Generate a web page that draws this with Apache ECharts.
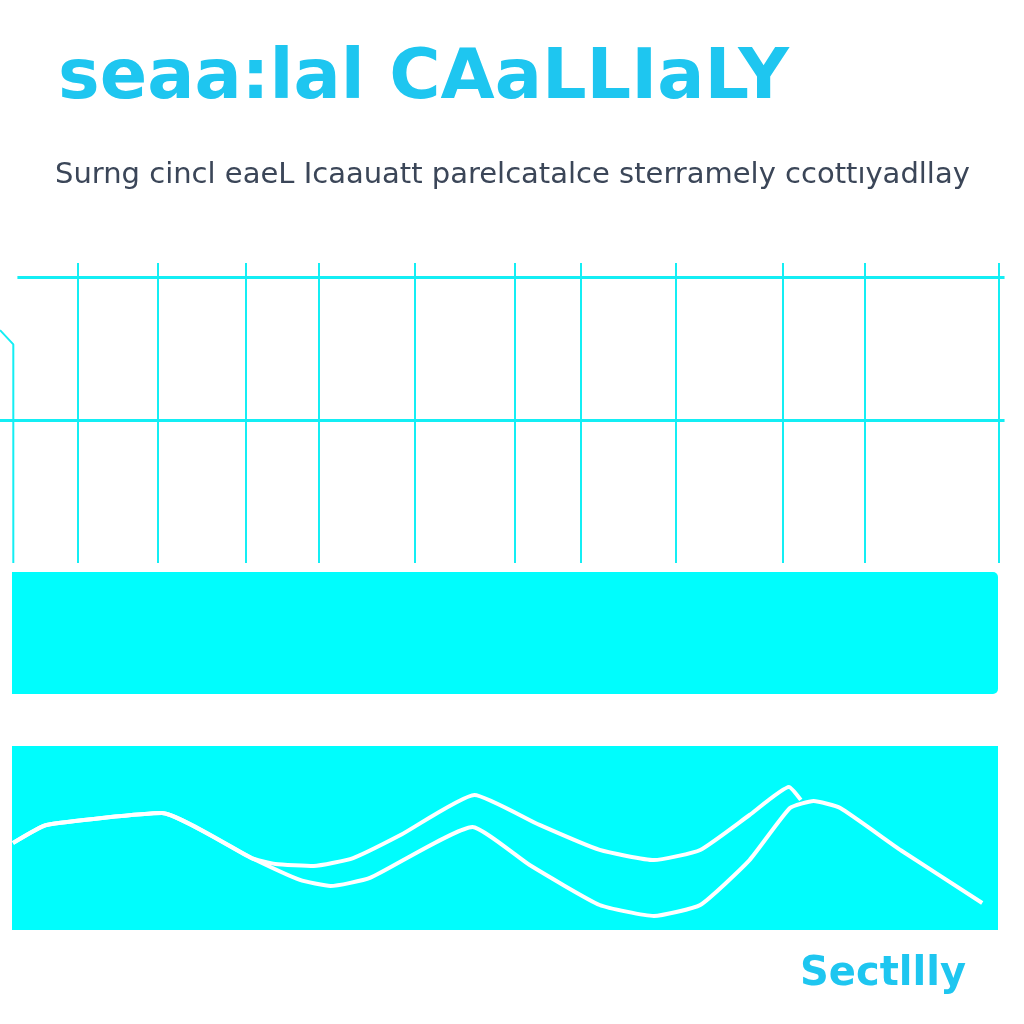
<!DOCTYPE html>
<html lang="en">
<head>
  <meta charset="UTF-8">
  <title>seaa:lal CAaLLIaLY</title>
  <style>
    html, body { margin: 0; padding: 0; background: #ffffff; }
  </style>
</head>
<body>
  <div id="main" style="width:1024px;height:1024px"></div>
  <script src="https://cdn.jsdelivr.net/npm/echarts@6/dist/echarts.min.js"></script>
  <script>
    var titleText = 'seaa:lal CAaLLIaLY'
    var subtitleText = 'Surng cincl eaeL Icaauatt parelcatalce sterramely ccottıyadllay'
    var footerText = 'Sectllly'

    // top panel: column positions (0-100 across the width) and row levels
    var columnMarks = [7.6, 15.4, 24.0, 31.1, 40.5, 50.3, 56.7, 66.0, 76.4, 84.4, 97.5]
    var rowLevels = [2, 1]
    var rowStarts = [1.7, 0]
    var rowEnd = 98.1
    var kinkLine = [[0, 1.63], [1.3, 1.53], [1.3, 0]]

    // band in the middle
    var bandValue = [100]

    // lower panel: two lines, [x, y]
    var upperLine = [
      [0.1, 47.3], [3.5, 57.1], [15.2, 63.6], [24.3, 39.1], [26.7, 35.9],
      [30.6, 34.8], [34.6, 39.1], [39.4, 51.6], [46.9, 73.4], [53.5, 57.1],
      [59.6, 43.5], [65.1, 38.0], [69.8, 43.5], [74.8, 62.5], [78.8, 77.7],
      [80.0, 70.7]
    ]
    var lowerLine = [
      [0.1, 47.3], [3.5, 57.1], [15.2, 63.6], [24.3, 39.1], [29.2, 27.2],
      [32.3, 23.9], [36.3, 28.3], [46.7, 56.0], [52.5, 35.3], [59.6, 13.6],
      [65.1, 7.6], [69.8, 13.6], [74.8, 38.0], [78.9, 66.3], [81.3, 70.1],
      [84.0, 66.3], [90.1, 43.5], [98.4, 14.7]
    ]

    var cyan = '#00fdfd'
    var gridCyan = '#14eef4'
    var blue = '#1ec6f0'

    var markData = []
    for (var i = 0; i < columnMarks.length; i++) {
      markData.push({ xAxis: columnMarks[i] })
    }
    for (var j = 0; j < rowLevels.length; j++) {
      markData.push([
        { coord: [rowStarts[j], rowLevels[j]], lineStyle: { width: 3 } },
        { coord: [rowEnd, rowLevels[j]] }
      ])
    }

    var myChart = echarts.init(document.getElementById('main'))

    var options = {
      animation: false,
      backgroundColor: '#ffffff',
      title: [
        {
          text: titleText,
          left: 53, top: 40,
          textStyle: { color: blue, fontSize: 70, fontWeight: 'bold', fontFamily: 'DejaVu Sans' }
        },
        {
          text: subtitleText,
          left: 50, top: 156,
          textStyle: { color: '#3b4658', fontSize: 29, fontWeight: 'normal', fontFamily: 'DejaVu Sans' }
        },
        {
          text: footerText,
          left: 795, top: 950,
          textStyle: { color: blue, fontSize: 40, fontWeight: 'bold', fontFamily: 'DejaVu Sans' }
        }
      ],
      grid: [
        { left: 0, right: 0, top: 263, height: 300 },
        { left: 12, width: 986, top: 572, height: 122 },
        { left: 12, width: 986, top: 746, height: 184, show: true, backgroundColor: cyan, borderWidth: 0 }
      ],
      xAxis: [
        { gridIndex: 0, type: 'value', min: 0, max: 100, show: false },
        { gridIndex: 1, type: 'value', min: 0, max: 100, show: false },
        { gridIndex: 2, type: 'value', min: 0, max: 100, show: false }
      ],
      yAxis: [
        { gridIndex: 0, type: 'value', min: 0, max: 2.1, show: false },
        { gridIndex: 1, type: 'category', data: ['band'], show: false },
        { gridIndex: 2, type: 'value', min: 0, max: 100, show: false }
      ],
      series: [
        {
          type: 'line',
          xAxisIndex: 0, yAxisIndex: 0,
          data: kinkLine,
          showSymbol: false,
          lineStyle: { color: gridCyan, width: 2 },
          markLine: {
            silent: true,
            symbol: 'none',
            label: { show: false },
            lineStyle: { color: gridCyan, width: 2, type: 'solid' },
            data: markData
          }
        },
        {
          type: 'bar',
          xAxisIndex: 1, yAxisIndex: 1,
          data: bandValue,
          barWidth: '100%',
          itemStyle: { color: cyan, borderRadius: [0, 5, 5, 0] }
        },
        {
          type: 'line',
          xAxisIndex: 2, yAxisIndex: 2,
          data: lowerLine,
          smooth: 0.15,
          showSymbol: false,
          lineStyle: { color: '#ffffff', width: 4 }
        },
        {
          type: 'line',
          xAxisIndex: 2, yAxisIndex: 2,
          data: upperLine,
          smooth: 0.15,
          showSymbol: false,
          lineStyle: { color: '#ffffff', width: 4 }
        }
      ]
    }

    myChart.setOption(options)
  </script>
</body>
</html>
